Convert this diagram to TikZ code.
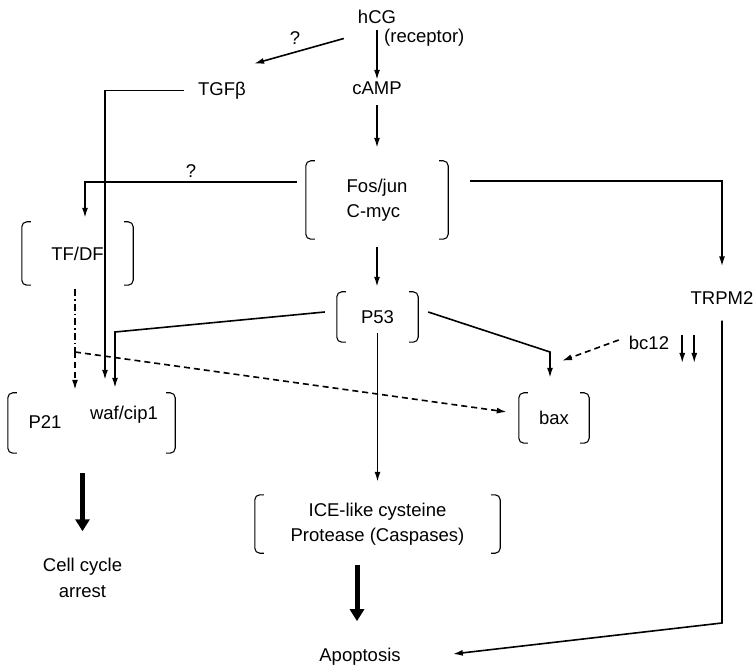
\documentclass[tikz,border=0pt]{standalone}
\usepackage{fontspec}
\setmainfont{Liberation Sans}
\usetikzlibrary{arrows.meta,calc}
\newcommand{\brk}[1]{%
  \draw[line width=1.1pt,rounded corners=5pt] ([xshift=9pt]#1.north west) -- (#1.north west) -- (#1.south west) -- ([xshift=9pt]#1.south west);
  \draw[line width=1.1pt,rounded corners=5pt] ([xshift=-9pt]#1.north east) -- (#1.north east) -- (#1.south east) -- ([xshift=-9pt]#1.south east);}

\begin{document}
\begin{tikzpicture}[x=1pt,y=-1pt,
  every node/.style={font=\fontsize{18.5}{25.5}\selectfont,inner sep=2pt},
  box/.style={inner sep=0pt},
  arr/.style={line width=1.6pt,-{Latex[length=10pt,width=6pt]}},
  bigarr/.style={line width=5pt,-{Triangle[length=12pt,width=14pt]}},
  dsh/.style={dash pattern=on 6pt off 4pt},
  dshdot/.style={dash pattern=on 7pt off 3pt on 1.5pt off 3pt}]
\useasboundingbox (0,0) rectangle (753,668);
\node (hcg) at (377,16.5) {hCG};
\node[anchor=west] (rec) at (382,38) {(receptor)};
\node (camp) at (377,88.5) {cAMP};
\node (tgf) at (222,90.5) {TGFβ};
\node[box,minimum width=142,minimum height=78,align=left] (fos) at (377,200) {Fos/jun\\C-myc};
\node[box,minimum width=111,minimum height=63] (tfdf) at (77.5,253.5) {TF/DF};
\node[box,minimum width=81,minimum height=50] (p53) at (377.5,317) {P53};
\node (trpm) at (722,298) {TRPM2};
\node (bcl) at (649,343) {bc12};
\node[box,minimum width=167,minimum height=60] (p21) at (91.5,423) {};
\node (p21t) at (45,422) {P21};
\node (waf) at (124,415) {waf/cip1};
\node[box,minimum width=70,minimum height=50] (bax) at (554,418) {bax};
\node[box,minimum width=245,minimum height=58,align=center] (casp) at (377.5,524) {ICE-like cysteine\\Protease (Caspases)};
\node[align=center] (cca) at (82.5,578) {Cell cycle\\arrest};
\node (apop) at (360,657) {Apoptosis};
\brk{fos} \brk{tfdf} \brk{p53} \brk{p21} \brk{bax} \brk{casp}
\coordinate (split) at (75,352);
\coordinate (kneeA) at (115,332);
\coordinate (kneeB) at (550,352);
\coordinate (bend) at (722,623);
\draw[arr,shorten <=5pt] (camp.north |- hcg.south) -- (camp.north);
\draw[arr] ([shift={(-12,13)}]hcg.south west) -- ([shift={(6,-16)}]tgf.north east) node[midway,above=4pt,xshift=-4pt] (q1) {?};
\draw[arr,shorten <=8pt,shorten >=13pt] (camp.south) -- (fos.north);
\draw[arr,shorten >=4pt] ([shift={(-9,-18)}]fos.west) -| ([xshift=7.5pt]tfdf.north) node[pos=.25,above=2pt] (q2) {?};
\draw[arr,shorten >=23pt] ([shift={(22,-19)}]fos.east) -| (trpm.north);
\draw[arr,shorten >=13pt] ([xshift=-12pt]tgf.west) -| ([xshift=-19pt]waf.north |- p21.north);
\draw[line width=1.6pt,dshdot,shorten <=4pt] ([xshift=-2.5pt]tfdf.south) -- (split);
\draw[arr,dsh,shorten >=3pt] (split) -- (split |- p21.north);
\draw[arr,dsh] (split) -- ([shift={(-12,-6)}]bax.west);
\draw[arr,shorten <=8pt,shorten >=5pt] (fos.south) -- (fos.south |- p53.north);
\draw[arr,shorten >=5pt] ([shift={(-12,-5)}]p53.west) -- (kneeA) -- (kneeA |- p21.north);
\draw[arr,shorten >=15pt] ([shift={(10,-5)}]p53.east) -- (kneeB) -- (kneeB |- bax.north);
\draw[arr,shorten >=13pt] ([shift={(0,-9)}]p53.south) -- (p53.south |- casp.north);
\draw[arr,dsh] ([shift={(-8,-3)}]bcl.west) -- ([shift={(8,-32)}]bax.north);
\draw[arr] ([shift={(11,-8)}]bcl.east) -- ++(0,28);
\draw[arr] ([shift={(23,-8)}]bcl.east) -- ++(0,28);
\draw[arr,shorten <=14pt] (trpm.south) -- (bend) -- ([shift={(50,-3)}]apop.east);
\draw[bigarr,shorten <=20pt,shorten >=25pt] (cca.north |- p21.south) -- (cca.north);
\draw[bigarr,shorten <=12pt,shorten >=25pt] ([xshift=-3pt]apop.north |- casp.south) -- ([xshift=-3pt]apop.north);
\end{tikzpicture}
\end{document}
